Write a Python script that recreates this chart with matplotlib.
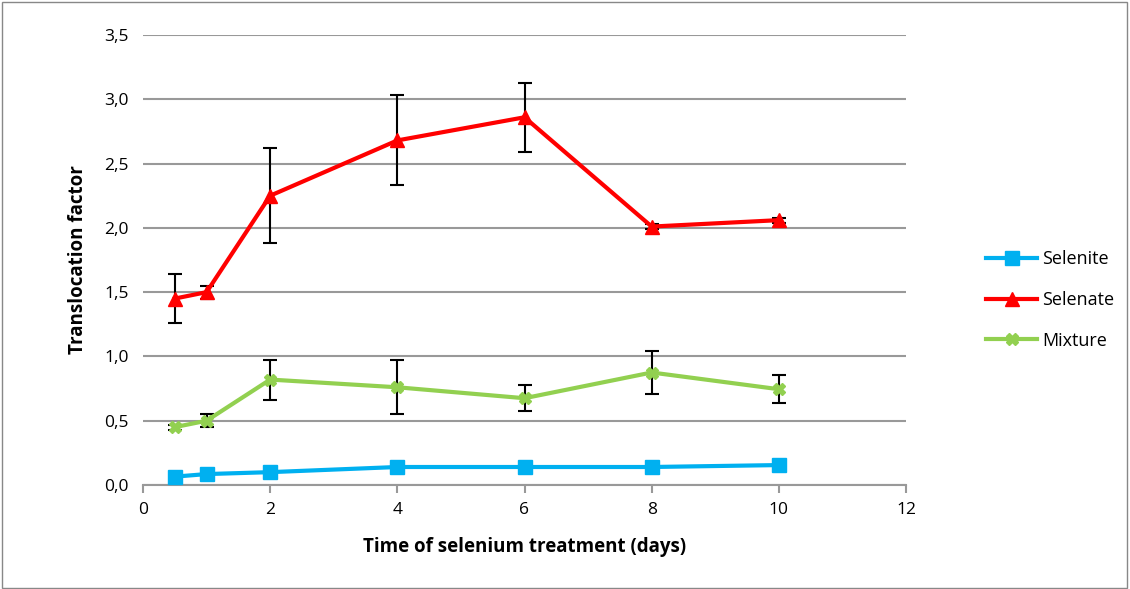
import matplotlib
matplotlib.use("Agg")
import matplotlib.pyplot as plt
from matplotlib.ticker import FuncFormatter, MultipleLocator
from matplotlib.patches import Rectangle
from matplotlib.lines import Line2D

plt.rcParams['font.family'] = ['Open Sans', 'DejaVu Sans']

days = [0.5, 1, 2, 4, 6, 8, 10]
selenite = [0.065, 0.085, 0.10, 0.14, 0.14, 0.14, 0.155]
selenate = [1.45, 1.50, 2.25, 2.68, 2.86, 2.01, 2.06]
selenate_err = [0.19, 0.05, 0.37, 0.35, 0.27, 0.02, 0.02]
mixture = [0.45, 0.50, 0.82, 0.76, 0.675, 0.875, 0.745]
mixture_err = [0.02, 0.05, 0.155, 0.21, 0.10, 0.17, 0.11]
names = ['Selenite', 'Selenate', 'Mixture']
colors = ['#00b0f0', '#ff0000', '#92d050']
markers = ['s', '^', 'X']

fig = plt.figure(figsize=(11.30, 5.89), dpi=100)
fig.patches.append(Rectangle((0.002, 0.002), 0.995, 0.995, transform=fig.transFigure,
                             fill=False, edgecolor='#888888', linewidth=1))
ax = fig.add_axes([143/1130, 1-485/589, (906-143)/1130, (485-35)/589])

ax.set_xlim(0, 12)
ax.set_ylim(0, 3.5)
ax.yaxis.set_major_locator(MultipleLocator(0.5))
ax.xaxis.set_major_locator(MultipleLocator(2))
ax.yaxis.set_major_formatter(FuncFormatter(lambda v, p: f"{v:.1f}".replace('.', ',')))
ax.grid(axis='y', color='#999999', linewidth=1.5)
ax.set_axisbelow(True)
for s in ['top', 'right', 'left']:
    ax.spines[s].set_visible(False)
ax.spines['bottom'].set_color('#999999')
ax.spines['bottom'].set_linewidth(1.5)
ax.tick_params(axis='y', length=0, labelsize=12.5, pad=10)
ax.tick_params(axis='x', direction='out', length=6, width=1.5, color='#999999', labelsize=12.5, pad=6)

ax.plot(days, selenite, color=colors[0], lw=3, marker=markers[0], ms=10, zorder=3)
ax.errorbar(days, selenate, yerr=selenate_err, color=colors[1], lw=3, marker=markers[1], ms=10,
            ecolor='black', elinewidth=1.5, capsize=5, capthick=1.5, zorder=3)
ax.errorbar(days, mixture, yerr=mixture_err, color=colors[2], lw=3, marker=markers[2], ms=8,
            ecolor='black', elinewidth=1.5, capsize=5, capthick=1.5, zorder=3)

ax.set_xlabel('Time of selenium treatment (days)', fontsize=13.5, fontweight='bold', labelpad=14)
ax.set_ylabel('Translocation factor', fontsize=13.5, fontweight='bold', labelpad=12)

handles = [Line2D([], [], color=c, lw=3, marker=m, ms=(10 if m != 'X' else 8))
           for c, m in zip(colors, markers)]
fig.legend(handles, names, loc='center left', bbox_to_anchor=(970/1130, 1-300/589),
           frameon=False, fontsize=13, handlelength=2.8, labelspacing=1.25, handletextpad=0.3)

fig.savefig('out.png', dpi=100)
